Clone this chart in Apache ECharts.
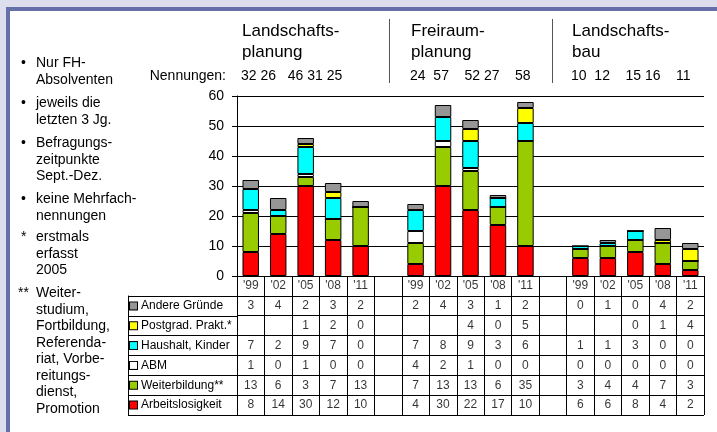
<!DOCTYPE html>
<html>
<head>
<meta charset="utf-8">
<script src="https://cdn.jsdelivr.net/npm/echarts@6/dist/echarts.min.js"></script>
<style>
  html, body { margin: 0; padding: 0; background: #dcdded; }
  #frame { position: absolute; left: 6px; top: 7px; right: 0; bottom: 0; background: #fff;
           border-left: 4px solid #6670a8; border-top: 4px solid #6670a8; }
  #main { position: absolute; left: 0; top: 0; width: 717px; height: 432px; }
</style>
</head>
<body>
<div id="frame"></div>
<div id="main"></div>
<script>
var FONT = '"Liberation Sans", Arial, sans-serif';

// Gruppen und Jahrgaenge
var groups = ['Landschafts-\nplanung', 'Freiraum-\nplanung', 'Landschafts-\nbau'];
var years = ["'99", "'02", "'05", "'08", "'11"];

// Werte je Gruppe (LP, FP, LB) x Jahr
var andere   = [3, 4, 2, 3, 2,    2, 4, 3, 1, 2,    0, 1, 0, 4, 2];
var postgrad = [null, null, 1, 2, 0,  null, null, 4, 0, 5,  null, null, 0, 1, 4];
var haushalt = [7, 2, 9, 7, 0,    7, 8, 9, 3, 6,    1, 1, 3, 0, 0];
var abm      = [1, 0, 1, 0, 0,    4, 2, 1, 0, 0,    0, 0, 0, 0, 0];
var weiter   = [13, 6, 3, 7, 13,  7, 13, 13, 6, 35, 3, 4, 4, 7, 3];
var arbeit   = [8, 14, 30, 12, 10, 4, 30, 22, 17, 10, 6, 6, 8, 4, 2];

// Legende/Tabellenzeilen von oben nach unten
var rowNames  = ['Andere Gründe', 'Postgrad. Prakt.*', 'Haushalt, Kinder', 'ABM', 'Weiterbildung**', 'Arbeitslosigkeit'];
var rowData   = [andere, postgrad, haushalt, abm, weiter, arbeit];
var rowColors = ['#969696', '#ffff00', '#00ffff', '#ffffff', '#99cc00', '#ff0000'];

// Kategorien mit Luecke zwischen den Gruppen
var cats = [], catLabels = [];
groups.forEach(function (g, gi) {
  years.forEach(function (y) { cats.push(gi + y); catLabels.push(y); });
  if (gi < groups.length - 1) { cats.push('gap' + gi); catLabels.push(''); }
});
function withGaps(arr) {
  var out = [];
  for (var i = 0; i < arr.length; i++) {
    out.push(arr[i]);
    if (i % 5 === 4 && i < arr.length - 1) out.push(null);
  }
  return out;
}

// Nennungen = Summe je Jahrgang
var totals = [];
for (var i = 0; i < arbeit.length; i++) {
  var s = 0;
  rowData.forEach(function (r) { s += r[i] || 0; });
  totals.push(s);
}

var series = [];
for (var r = rowNames.length - 1; r >= 0; r--) {
  series.push({
    name: rowNames[r],
    type: 'bar',
    stack: 'all',
    xAxisIndex: 0, yAxisIndex: 0,
    barWidth: '60%',
    itemStyle: { color: rowColors[r], borderColor: '#000', borderWidth: 1 },
    data: withGaps(rowData[r])
  });
}

// Tabellenzellen
var cells = [];
catLabels.forEach(function (y, i) { if (y) cells.push([i, 0, y]); });
rowData.forEach(function (arr, r) {
  withGaps(arr).forEach(function (v, i) {
    if (v !== null && v !== undefined) cells.push([i, r + 1, v]);
  });
});
series.push({
  type: 'scatter',
  xAxisIndex: 1, yAxisIndex: 1,
  symbolSize: 0,
  silent: true,
  label: { show: true, position: 'inside', fontSize: 12, color: '#000', fontFamily: FONT,
           formatter: function (p) { return p.data[2]; } },
  data: cells
});

var rich = {};
rowColors.forEach(function (c, i) {
  rich['c' + i] = { width: 7, height: 7, backgroundColor: c, borderColor: '#000', borderWidth: 1 };
});
rich.t = { fontSize: 12, color: '#000', fontFamily: FONT, padding: [0, 0, 0, 4] };

// Anmerkungen links
var notes = [
  ['•', 'Nur FH-\nAbsolventen', 55],
  ['•', 'jeweils die\nletzten 3 Jg.', 95],
  ['•', 'Befragungs-\nzeitpunkte\nSept.-Dez.', 135],
  ['•', 'keine Mehrfach-\nnennungen', 191],
  ['*', 'erstmals\nerfasst\n2005', 229],
  ['**', 'Weiter-\nstudium,\nFortbildung,\nReferenda-\nriat, Vorbe-\nreitungs-\ndienst,\nPromotion', 285]
];
var graphic = [];
notes.forEach(function (n) {
  graphic.push({ type: 'text', left: n[0] === '**' ? 18 : 21, top: n[2],
    style: { text: n[0], fontSize: 14, fontFamily: FONT, fill: '#000', lineHeight: 16.5 } });
  graphic.push({ type: 'text', left: 36, top: n[2],
    style: { text: n[1], fontSize: 14, fontFamily: FONT, fill: '#000', lineHeight: 16.5 } });
});

// Gruppenueberschriften und Nennungen
var groupLeft = [242, 411, 572];
var numGaps = [[' ', '   ', ' ', ' '], ['  ', '    ', ' ', '    '], ['  ', '    ', ' ', '    ']];
groups.forEach(function (g, gi) {
  graphic.push({ type: 'text', left: groupLeft[gi], top: 21,
    style: { text: g, fontSize: 17, fontFamily: FONT, fill: '#000', lineHeight: 21 } });
  var t = '';
  totals.slice(gi * 5, gi * 5 + 5).forEach(function (v, k) {
    t += v + (k < 4 ? numGaps[gi][k] : '');
  });
  graphic.push({ type: 'text', left: groupLeft[gi] - 1, top: 68,
    style: { text: t, fontSize: 14, fontFamily: FONT, fill: '#000', lineHeight: 16 } });
});
graphic.push({ type: 'text', right: 491, top: 68,
  style: { text: 'Nennungen:', fontSize: 14, fontFamily: FONT, fill: '#000', lineHeight: 16 } });
[389.5, 552.5].forEach(function (x) {
  graphic.push({ type: 'line', shape: { x1: x, y1: 19, x2: x, y2: 83 }, style: { stroke: '#555', lineWidth: 1 } });
});

var chart = echarts.init(document.getElementById('main'));
chart.setOption({
  animation: false,
  backgroundColor: 'transparent',
  textStyle: { fontFamily: FONT },
  grid: [
    { left: 237, right: 13, top: 96, bottom: 156 },
    { left: 237, right: 13, top: 276, bottom: 17 },
    { left: 128, width: 109, top: 296, bottom: 17 }
  ],
  xAxis: [
    { gridIndex: 0, type: 'category', data: cats,
      axisLine: { lineStyle: { color: '#000' } }, axisTick: { show: false }, axisLabel: { show: false } },
    { gridIndex: 1, type: 'category', data: cats,
      axisLine: { show: false }, axisTick: { show: false }, axisLabel: { show: false, interval: 0 },
      splitLine: { show: true, interval: 0, lineStyle: { color: '#000' } } },
    { gridIndex: 2, type: 'category', data: ['Legende'],
      axisLine: { show: false }, axisTick: { show: false }, axisLabel: { show: false, interval: 0 },
      splitLine: { show: true, interval: 0, lineStyle: { color: '#000' } } }
  ],
  yAxis: [
    { gridIndex: 0, type: 'value', min: 0, max: 60, interval: 10,
      axisLine: { show: true, lineStyle: { color: '#000' } },
      axisTick: { show: true, length: 5, lineStyle: { color: '#000' } },
      axisLabel: { fontSize: 14, color: '#000', margin: 13, fontFamily: FONT },
      splitLine: { lineStyle: { color: '#000' } } },
    { gridIndex: 1, type: 'category', inverse: true, data: ['Jahr'].concat(rowNames),
      axisLine: { show: false }, axisTick: { show: false }, axisLabel: { show: false, interval: 0 },
      splitLine: { show: true, interval: 0, lineStyle: { color: '#000' } } },
    { gridIndex: 2, type: 'category', inverse: true, data: rowNames,
      axisLine: { show: true, lineStyle: { color: '#000' } }, axisTick: { show: false },
      axisLabel: { inside: true, margin: 2, interval: 0,
        formatter: function (v, i) { return '{c' + i + '|}{t|' + v + '}'; }, rich: rich },
      splitLine: { show: true, interval: 0, lineStyle: { color: '#000' } } }
  ],
  graphic: graphic,
  series: series
});
</script>
</body>
</html>
